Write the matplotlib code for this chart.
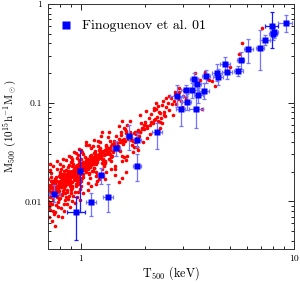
import matplotlib
matplotlib.use("Agg")
import matplotlib.pyplot as plt
import numpy as np

plt.rcParams["font.family"] = "serif"
plt.rcParams["font.serif"] = ["cmr10", "DejaVu Serif"]
plt.rcParams["mathtext.fontset"] = "cm"
plt.rcParams["axes.formatter.use_mathtext"] = True

# simulated clusters (red cloud)
red_T = [
    0.714, 0.739, 0.704, 0.729, 0.746, 0.721, 0.700, 0.734, 0.711, 0.742, 0.725, 0.706, 0.748, 0.719, 0.730,
    0.703, 0.740, 0.717, 0.726, 0.745, 0.712, 0.737, 0.722, 0.708, 0.733, 0.705, 0.716, 0.728, 0.738, 0.746,
    0.783, 0.758, 0.772, 0.787, 0.762, 0.795, 0.776, 0.767, 0.790, 0.753, 0.780, 0.769, 0.798, 0.756, 0.775,
    0.792, 0.761, 0.784, 0.750, 0.771, 0.796, 0.779, 0.754, 0.789, 0.764, 0.758, 0.772, 0.784, 0.794, 0.776,
    0.824, 0.809, 0.840, 0.818, 0.802, 0.833, 0.846, 0.815, 0.828, 0.801, 0.836, 0.820, 0.811, 0.844, 0.804,
    0.827, 0.838, 0.813, 0.849, 0.822, 0.807, 0.830, 0.843, 0.816, 0.835, 0.808, 0.822, 0.836, 0.846, 0.828,
    0.885, 0.866, 0.893, 0.880, 0.857, 0.872, 0.899, 0.863, 0.888, 0.877, 0.854, 0.894, 0.861, 0.870, 0.886,
    0.851, 0.878, 0.865, 0.852, 0.896, 0.883, 0.868, 0.890, 0.859, 0.874, 0.858, 0.874, 0.886, 0.896, 0.868,
    0.914, 0.939, 0.904, 0.929, 0.946, 0.921, 0.900, 0.934, 0.911, 0.942, 0.925, 0.906, 0.948, 0.919, 0.930,
    0.903, 0.940, 0.917, 0.926, 0.945, 0.912, 0.937, 0.922, 0.908, 0.933, 0.908, 0.924, 0.938, 0.946, 0.918,
    0.974, 0.959, 0.990, 0.968, 0.952, 0.983, 0.996, 0.965, 0.978, 0.951, 0.986, 0.970, 0.961, 0.994, 0.954,
    0.977, 0.988, 0.963, 0.999, 0.972, 0.957, 0.980, 0.993, 0.966, 0.985, 0.958, 0.974, 0.986, 0.996, 0.968,
    1.028, 1.077, 1.008, 1.057, 1.093, 1.041, 1.001, 1.068, 1.021, 1.085, 1.049, 1.013, 1.097, 1.037, 1.061,
    1.005, 1.081, 1.033, 1.053, 1.089, 1.025, 1.073, 1.045, 1.017, 1.065, 1.026, 1.058, 1.078, 1.094,
    1.149, 1.117, 1.181, 1.137, 1.105, 1.165, 1.193, 1.129, 1.157, 1.101, 1.173, 1.141, 1.121, 1.189, 1.109,
    1.153, 1.177, 1.125, 1.197, 1.145, 1.113, 1.161, 1.185, 1.133, 1.169, 1.118, 1.150, 1.182, 1.190,
    1.248, 1.213, 1.279, 1.231, 1.291, 1.201, 1.261, 1.219, 1.297, 1.243, 1.267, 1.207, 1.285, 1.237, 1.273,
    1.225, 1.255, 1.213, 1.245, 1.275, 1.230,
    1.349, 1.309, 1.381, 1.325, 1.397, 1.365, 1.302, 1.341, 1.389, 1.317, 1.373, 1.333, 1.357, 1.316, 1.348,
    1.380, 1.395,
    1.497, 1.436, 1.553, 1.405, 1.526, 1.463, 1.584, 1.424, 1.507, 1.567, 1.455, 1.534, 1.416, 1.594, 1.486,
    1.545, 1.446, 1.515, 1.576, 1.475, 1.440, 1.500, 1.560, 1.590,
    1.712, 1.634, 1.772, 1.667, 1.798, 1.606, 1.742, 1.681, 1.786, 1.621, 1.726, 1.652, 1.757, 1.694, 1.640,
    1.700, 1.760,
    1.892, 1.969, 1.831, 1.928, 1.812, 1.988, 1.871, 1.951, 1.848, 1.909, 1.840, 1.900, 1.960,
    2.17, 2.38, 2.05, 2.29, 2.44, 2.11, 2.23, 2.02, 2.35, 2.47, 2.20, 2.08, 2.32, 2.41, 2.14, 2.26, 2.10, 2.25,
    2.40, 2.30,
    2.52, 2.56, 2.60, 2.64, 2.68, 2.72, 2.76, 2.80, 2.85, 2.90, 2.95, 3.00, 3.06, 3.12, 2.70, 2.88, 2.98,
    2.76, 2.43, 2.60, 2.30, 2.20, 2.52,
    3.43, 3.62, 3.89, 5.00, 5.68, 5.54, 4.10, 7.10, 4.26, 3.68, 4.00, 3.82,
    1.30, 1.45, 1.62, 1.85, 2.35, 2.05, 1.05, 1.25, 1.55, 1.44, 1.50, 1.55, 1.62,
    0.757, 0.814, 0.736,
    # dense core of the band
    0.711, 0.718, 0.724, 0.731, 0.735, 0.743, 0.701, 0.709,
    0.752, 0.759, 0.766, 0.773, 0.778, 0.786, 0.791, 0.797,
    0.803, 0.810, 0.817, 0.825, 0.831, 0.838, 0.842, 0.848,
    0.853, 0.860, 0.867, 0.875, 0.881, 0.887, 0.892, 0.898,
    0.902, 0.909, 0.915, 0.923, 0.928, 0.935, 0.941, 0.947,
    0.953, 0.960, 0.966, 0.973, 0.979, 0.986, 0.991, 0.998,
    1.003, 1.011, 1.019, 1.027, 1.035, 1.043, 1.051, 1.059, 1.067, 1.075, 1.083, 1.091, 1.098,
    1.103, 1.111, 1.119, 1.127, 1.135, 1.143, 1.151, 1.159, 1.167, 1.175, 1.183, 1.191, 1.198,
    1.204, 1.211, 1.222, 1.233, 1.241, 1.252, 1.263, 1.271, 1.282, 1.293, 1.298,
    1.305, 1.314, 1.326, 1.337, 1.345, 1.356, 1.367, 1.378, 1.388, 1.396,
    1.41, 1.43, 1.45, 1.47, 1.49, 1.51, 1.53, 1.55, 1.57, 1.59,
    1.61, 1.64, 1.66, 1.69, 1.72, 1.74, 1.77, 1.79,
    1.82, 1.86, 1.89, 1.93, 1.97, 1.99,
    2.04, 2.12, 2.19, 2.27, 2.36, 2.45,
]
red_M = [
    0.0110, 0.0135, 0.0092, 0.0160, 0.0121, 0.0178, 0.0100, 0.0142, 0.0088, 0.0129, 0.0195, 0.0113, 0.0152, 0.0097, 0.0136,
    0.0170, 0.0118, 0.0082, 0.0148, 0.0125, 0.0210, 0.0105, 0.0160, 0.0131, 0.0094, 0.0070, 0.0240, 0.0064, 0.0228, 0.0075,
    0.0138, 0.0170, 0.0112, 0.0155, 0.0126, 0.0190, 0.0099, 0.0145, 0.0120, 0.0168, 0.0134, 0.0215, 0.0108, 0.0152, 0.0128,
    0.0180, 0.0093, 0.0140, 0.0163, 0.0117, 0.0200, 0.0132, 0.0150, 0.0106, 0.0175, 0.0078, 0.0255, 0.0072, 0.0240, 0.0088,
    0.0150, 0.0185, 0.0122, 0.0168, 0.0140, 0.0205, 0.0110, 0.0158, 0.0133, 0.0178, 0.0147, 0.0230, 0.0119, 0.0165, 0.0139,
    0.0192, 0.0104, 0.0152, 0.0175, 0.0128, 0.0215, 0.0143, 0.0160, 0.0115, 0.0186, 0.0086, 0.0270, 0.0080, 0.0262, 0.0095,
    0.0165, 0.0200, 0.0133, 0.0182, 0.0152, 0.0222, 0.0121, 0.0172, 0.0145, 0.0194, 0.0160, 0.0250, 0.0130, 0.0180, 0.0151,
    0.0210, 0.0114, 0.0166, 0.0190, 0.0140, 0.0235, 0.0156, 0.0175, 0.0126, 0.0203, 0.0094, 0.0290, 0.0088, 0.0285, 0.0105,
    0.0180, 0.0218, 0.0145, 0.0198, 0.0165, 0.0242, 0.0132, 0.0187, 0.0158, 0.0211, 0.0174, 0.0272, 0.0142, 0.0196, 0.0164,
    0.0228, 0.0124, 0.0180, 0.0207, 0.0152, 0.0255, 0.0170, 0.0190, 0.0137, 0.0221, 0.0102, 0.0315, 0.0096, 0.0310, 0.0114,
    0.0195, 0.0236, 0.0157, 0.0215, 0.0180, 0.0262, 0.0143, 0.0203, 0.0172, 0.0229, 0.0189, 0.0295, 0.0154, 0.0212, 0.0178,
    0.0247, 0.0135, 0.0195, 0.0224, 0.0165, 0.0276, 0.0184, 0.0206, 0.0149, 0.0240, 0.0110, 0.0340, 0.0104, 0.0335, 0.0124,
    0.0210, 0.0256, 0.0172, 0.0232, 0.0196, 0.0285, 0.0160, 0.0224, 0.0190, 0.0250, 0.0208, 0.0320, 0.0174, 0.0236, 0.0200,
    0.0272, 0.0155, 0.0222, 0.0252, 0.0190, 0.0305, 0.0213, 0.0238, 0.0176, 0.0270, 0.0122, 0.0375, 0.0130, 0.0370,
    0.0243, 0.0295, 0.0200, 0.0268, 0.0226, 0.0325, 0.0185, 0.0258, 0.0220, 0.0288, 0.0240, 0.0365, 0.0202, 0.0272, 0.0232,
    0.0312, 0.0180, 0.0256, 0.0290, 0.0220, 0.0350, 0.0246, 0.0274, 0.0205, 0.0310, 0.0145, 0.0420, 0.0150, 0.0160,
    0.0276, 0.0334, 0.0228, 0.0302, 0.0255, 0.0368, 0.0212, 0.0292, 0.0250, 0.0326, 0.0272, 0.0410, 0.0232, 0.0310, 0.0264,
    0.0352, 0.0244, 0.0170, 0.0460, 0.0180, 0.0400,
    0.0310, 0.0372, 0.0258, 0.0338, 0.0288, 0.0410, 0.0244, 0.0330, 0.0282, 0.0368, 0.0306, 0.0450, 0.0270, 0.0200, 0.0510,
    0.0215, 0.0360,
    0.0345, 0.0410, 0.0290, 0.0378, 0.0326, 0.0460, 0.0282, 0.0372, 0.0330, 0.0420, 0.0356, 0.0500, 0.0318, 0.0412, 0.0362,
    0.0470, 0.0340, 0.0430, 0.0390, 0.0360, 0.0230, 0.0580, 0.0255, 0.0560,
    0.0415, 0.0490, 0.0360, 0.0450, 0.0400, 0.0540, 0.0370, 0.0460, 0.0420, 0.0520, 0.0440, 0.0600, 0.0410, 0.0500, 0.0290,
    0.0660, 0.0320,
    0.0505, 0.0590, 0.0440, 0.0545, 0.0480, 0.0640, 0.0460, 0.0560, 0.0515, 0.0620, 0.0360, 0.0750, 0.0400,
    0.062, 0.070, 0.055, 0.066, 0.075, 0.060, 0.069, 0.082, 0.064, 0.074, 0.088, 0.070, 0.080, 0.095, 0.076, 0.086, 0.048, 0.100,
    0.062, 0.052,
    0.090, 0.100, 0.085, 0.112, 0.096, 0.105, 0.120, 0.098, 0.110, 0.128, 0.104, 0.118, 0.135, 0.112, 0.075, 0.142, 0.090,
    0.128, 0.105, 0.118, 0.092, 0.085, 0.112,
    0.201, 0.169, 0.172, 0.231, 0.405, 0.310, 0.167, 0.567, 0.147, 0.087, 0.169, 0.206,
    0.0170, 0.0215, 0.0265, 0.0330, 0.0550, 0.0440, 0.0400, 0.0500, 0.0650, 0.0184, 0.0157, 0.0171, 0.0200,
    0.0057, 0.0069, 0.0081,
    # dense core of the band
    0.0121, 0.0140, 0.0126, 0.0150, 0.0118, 0.0143, 0.0125, 0.0147,
    0.0130, 0.0155, 0.0136, 0.0160, 0.0143, 0.0129, 0.0152, 0.0162,
    0.0145, 0.0168, 0.0152, 0.0176, 0.0158, 0.0144, 0.0172, 0.0180,
    0.0162, 0.0186, 0.0170, 0.0193, 0.0175, 0.0160, 0.0190, 0.0198,
    0.0176, 0.0204, 0.0187, 0.0212, 0.0193, 0.0176, 0.0208, 0.0218,
    0.0194, 0.0224, 0.0205, 0.0232, 0.0212, 0.0192, 0.0228, 0.0240,
    0.0212, 0.0244, 0.0226, 0.0252, 0.0232, 0.0212, 0.0250, 0.0262, 0.0236, 0.0268, 0.0244, 0.0226, 0.0262,
    0.0240, 0.0272, 0.0252, 0.0282, 0.0260, 0.0238, 0.0280, 0.0292, 0.0264, 0.0298, 0.0272, 0.0250, 0.0290,
    0.0268, 0.0302, 0.0282, 0.0315, 0.0290, 0.0268, 0.0314, 0.0326, 0.0296, 0.0334, 0.0305,
    0.0300, 0.0338, 0.0315, 0.0350, 0.0324, 0.0300, 0.0350, 0.0362, 0.0330, 0.0370,
    0.0336, 0.0380, 0.0352, 0.0395, 0.0366, 0.0340, 0.0400, 0.0420, 0.0380, 0.0432,
    0.0410, 0.0460, 0.0430, 0.0480, 0.0445, 0.0415, 0.0490, 0.0505,
    0.0480, 0.0530, 0.0505, 0.0560, 0.0540, 0.0590,
    0.058, 0.064, 0.067, 0.072, 0.078, 0.081,
]

# Finoguenov et al. 01 clusters
fin_T = [0.75, 0.95, 0.986, 1.11, 1.24, 1.34, 1.46, 1.68, 1.83, 1.84, 2.28, 2.81, 2.94, 3.10, 3.13, 3.33, 3.40,
         3.45, 3.49, 3.55, 3.79, 3.86, 4.34, 4.38, 4.74, 4.83, 5.48, 5.62, 6.10, 6.92, 7.31, 7.86, 7.97, 8.08, 9.14]
fin_M = [0.0120, 0.0078, 0.0203, 0.0098, 0.0185, 0.0112, 0.0348, 0.0465, 0.0228, 0.042, 0.050, 0.116, 0.087,
         0.134, 0.102, 0.134, 0.173, 0.087, 0.154, 0.119, 0.132, 0.186, 0.201, 0.183, 0.244, 0.206, 0.209, 0.270,
         0.347, 0.355, 0.430, 0.598, 0.500, 0.520, 0.646]
fin_T_lo = [0.71, 0.86, 0.965, 1.05, 1.20, 1.27, 1.40, 1.62, 1.76, 1.77, 2.16, 2.62, 2.80, 2.95, 2.98, 3.15, 3.25,
            3.20, 3.35, 3.40, 3.60, 3.70, 4.10, 4.15, 4.50, 4.60, 5.25, 5.40, 5.80, 6.60, 6.90, 7.31, 7.60, 7.75, 8.40]
fin_T_hi = [0.80, 1.04, 1.005, 1.17, 1.28, 1.42, 1.52, 1.74, 1.92, 1.91, 2.40, 3.00, 3.08, 3.25, 3.30, 3.50, 3.55,
            3.75, 3.65, 3.72, 4.00, 4.05, 4.60, 4.65, 5.00, 5.10, 5.75, 5.85, 6.40, 7.25, 7.75, 8.40, 8.35, 8.45, 9.80]
fin_M_lo = [0.0099, 0.0041, 0.0079, 0.0072, 0.0149, 0.0078, 0.029, 0.033, 0.0161, 0.036, 0.034, 0.090, 0.058,
            0.118, 0.085, 0.112, 0.150, 0.055, 0.135, 0.100, 0.110, 0.160, 0.165, 0.150, 0.205, 0.175, 0.185, 0.220,
            0.254, 0.214, 0.380, 0.355, 0.430, 0.450, 0.520]
fin_M_hi = [0.0146, 0.0110, 0.0335, 0.0122, 0.0220, 0.0149, 0.041, 0.060, 0.0305, 0.049, 0.062, 0.150, 0.114,
            0.152, 0.122, 0.160, 0.200, 0.120, 0.178, 0.140, 0.158, 0.215, 0.245, 0.220, 0.290, 0.245, 0.235, 0.330,
            0.438, 0.545, 0.490, 0.835, 0.580, 0.600, 0.770]
fin_dark = [0, 1, 1, 0, 0, 0, 0, 0, 0, 0, 0, 0, 0, 0, 0, 0, 0, 0, 0, 0, 0, 0, 0, 0, 0, 0, 0, 0, 0, 0, 0, 1, 0, 0, 0]


def main():
    fig = plt.figure(figsize=(3.0, 2.83), dpi=100)
    ax = fig.add_axes([0.16, 0.12, 0.82, 0.866])

    ax.plot(red_T, red_M, "o", color="#ff0000", ms=2.6, mec="none", zorder=1)

    T = np.array(fin_T)
    M = np.array(fin_M)
    xerr = np.array([T - np.array(fin_T_lo), np.array(fin_T_hi) - T])
    yerr = np.array([M - np.array(fin_M_lo), np.array(fin_M_hi) - M])
    dark = np.array(fin_dark, dtype=bool)

    # light and dark error bars
    ax.errorbar(T[~dark], M[~dark], xerr=xerr[:, ~dark], yerr=yerr[:, ~dark], fmt="none",
                ecolor="#7474ff", elinewidth=0.9, capsize=1.6, capthick=0.9, zorder=2)
    ax.errorbar(T[dark], M[dark], xerr=xerr[:, dark], yerr=yerr[:, dark], fmt="none",
                ecolor="#1a1aff", elinewidth=0.9, capsize=1.6, capthick=0.9, zorder=2)
    ax.plot(T, M, "s", color="#0000ff", ms=3.8, mec="none", zorder=3,
            label="Finoguenov et al. 01")

    ax.set_xscale("log")
    ax.set_yscale("log")
    ax.set_xlim(0.7, 10)
    ax.set_ylim(0.0033, 1)

    ax.set_xticks([1, 10])
    ax.set_xticklabels(["1", "10"])
    ax.set_yticks([0.01, 0.1, 1])
    ax.set_yticklabels(["0.01", "0.1", "1"])
    ax.tick_params(which="both", direction="in", top=True, right=True, labelsize=7, width=0.6)
    ax.tick_params(which="major", length=4.5, pad=4)
    ax.tick_params(which="minor", length=2.5)
    for s in ax.spines.values():
        s.set_linewidth(0.7)
        s.set_color("#333333")

    ax.set_xlabel(r"T$_{500}$ (keV)", fontsize=8.7, labelpad=1)
    ax.set_ylabel(r"M$_{500}$ (10$^{15}$h$^{-1}$M$_\odot$)", fontsize=8)
    ax.yaxis.set_label_coords(-0.118, 0.5)

    ax.legend(loc="center left", bbox_to_anchor=(0.028, 0.91), frameon=False, fontsize=10,
              handlelength=0.8, handletextpad=0.75, borderaxespad=0, numpoints=1, markerscale=1.35)

    fig.savefig("out.png", dpi=100)


if __name__ == "__main__":
    main()
